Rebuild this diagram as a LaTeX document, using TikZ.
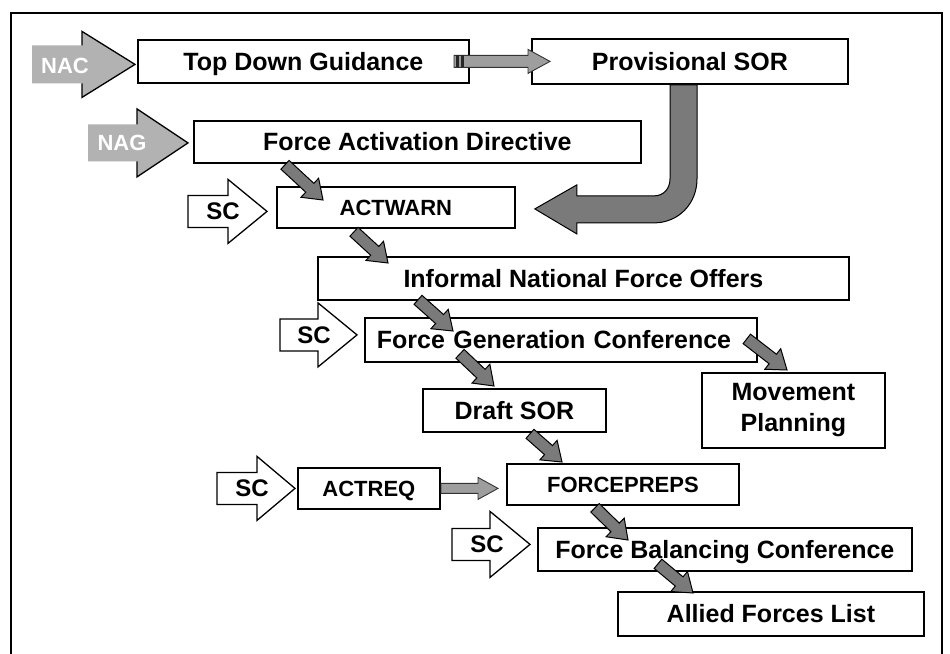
\documentclass[tikz,border=0pt]{standalone}
\usepackage{fontspec}
\setmainfont{Liberation Sans}
\usetikzlibrary{calc}

% broad grey block arrow from tail #2 to tip #3
\newcommand\fatarrow[3][]{%
  \path ($(#3)!18pt!(#2)$) coordinate (fah);
  \filldraw[fat,#1] ($(#2)!6pt!90:(#3)$) -- ($(fah)!6pt!90:(#3)$) -- ($(fah)!13pt!90:(#3)$)
    -- (#3) -- ($(fah)!13pt!-90:(#3)$) -- ($(fah)!6pt!-90:(#3)$) -- ($(#2)!6pt!-90:(#3)$) -- cycle;}

% entry arrow pointing right to tip #2: body length #3, head length #4,
% body half height #5, head half height #6
\newcommand\entryarrow[6][]{%
  \filldraw[#1] ($(#2)+({-(#3)-(#4)},{-(#5)})$) -- ($(#2)+({-(#4)},{-(#5)})$)
    -- ($(#2)+({-(#4)},{-(#6)})$) -- (#2) -- ($(#2)+({-(#4)},{#6})$)
    -- ($(#2)+({-(#4)},{#5})$) -- ($(#2)+({-(#3)-(#4)},{#5})$) -- cycle;}

% grey entry arrow whose outline is drawn on the head only
\newcommand\headarrow[5]{%
  \fill[nacfill] ($(#1)+({-(#2)-(#3)},{-(#4)})$) -- ($(#1)+({-(#3)},{-(#4)})$)
    -- ($(#1)+({-(#3)},{-(#5)})$) -- (#1) -- ($(#1)+({-(#3)},{#5})$)
    -- ($(#1)+({-(#3)},{#4})$) -- ($(#1)+({-(#2)-(#3)},{#4})$) -- cycle;
  \draw[line width=1.3pt, line join=miter] ($(#1)+({-(#3)},{-(#4)})$)
    -- ($(#1)+({-(#3)},{-(#5)})$) -- (#1) -- ($(#1)+({-(#3)},{#5})$)
    -- ($(#1)+({-(#3)},{#4})$);}

\tikzset{
  plainbox/.style={draw=black, line width=1.8pt, fill=white, anchor=north west,
    inner sep=0pt, align=center, font=\bfseries\fontsize{25}{31}\selectfont},
  box/.style={plainbox, text height=18pt, text depth=0pt},
  capsbox/.style={plainbox, text height=16pt, text depth=0pt,
    font=\bfseries\fontsize{22}{26}\selectfont},
  fat/.style={fill=black!52, draw=black, line width=1pt, line join=miter},
  thin/.style={fill=black!38, draw=black!80, line width=0.9pt, line join=miter},
  nacfill/.style={fill=black!30},
  scshape/.style={fill=white, draw=black, line width=1.3pt, line join=miter},
  sclabel/.style={font=\bfseries\fontsize{24}{28}\selectfont, inner sep=0pt},
  naclabel/.style={font=\bfseries\fontsize{22}{26}\selectfont, text=white, inner sep=0pt},
}

\begin{document}
\begin{tikzpicture}[x=1pt,y=-1pt]
\useasboundingbox (0,0) rectangle (950,653);
\fill[white] (0,0) rectangle (950,653);

% outer frame
\draw[line width=1.3pt] (11,13) rectangle (942,664);

% process boxes
\node[box, minimum width=331, minimum height=43] (tdg) at (137,39) {Top Down Guidance};
\node[box, minimum width=316, minimum height=45] (psor) at (531,38) {Provisional SOR};
\node[box, minimum width=447, minimum height=42] (fad) at (193,120) {Force Activation Directive};
\node[capsbox, minimum width=238, minimum height=41] (actwarn) at (276,186) {ACTWARN};
\node[box, minimum width=531, minimum height=43] (info) at (317,256) {Informal National Force Offers};
\node[box, minimum width=392, minimum height=44, text width=368, align=left] (fgc) at (364,317) {Force Generation Conference};
\node[plainbox, minimum width=183, minimum height=75] (mp) at (701,372) {Movement\\Planning};
\node[box, minimum width=183, minimum height=43] (draft) at (422,388) {Draft SOR};
\node[capsbox, minimum width=142, minimum height=41] (actreq) at (297,467) {ACTREQ};
\node[capsbox, minimum width=232, minimum height=41] (fp) at (506,463) {FORCEPREPS};
\node[box, minimum width=374, minimum height=43] (fbc) at (537,527) {Force Balancing Conference};
\node[box, minimum width=306, minimum height=44] (afl) at (617,591) {Allied Forces List};

% NAC inputs
\coordinate (nac1) at ($(tdg.west)+(-2,3)$);
\headarrow{nac1}{50}{53}{19}{33}
\node[naclabel] (nac1l) at ($(nac1)+(-70,2)$) {NAC};
\coordinate (nac2) at ($(fad.west)+(-5,1)$);
\headarrow{nac2}{49}{51}{18.5}{34}
\node[naclabel] (nac2l) at ($(nac2)+(-66,0)$) {NAG};

% SC inputs
\coordinate (sc1) at ($(actwarn.west)+(-9,4)$);
\entryarrow[scshape]{sc1}{40}{39}{16}{32}
\node[sclabel] (sc1l) at ($(sc1)+(-44,0)$) {SC};
\coordinate (sc2) at ($(fgc.west)+(-7,-5)$);
\entryarrow[scshape]{sc2}{38}{39}{16}{32}
\node[sclabel] (sc2l) at ($(sc2)+(-43,0)$) {SC};
\coordinate (sc3) at ($(actreq.west)+(-2,0)$);
\entryarrow[scshape]{sc3}{40}{38}{16}{32}
\node[sclabel] (sc3l) at ($(sc3)+(-43,0)$) {SC};
\coordinate (sc4) at ($(fbc.west)+(-7,-5)$);
\entryarrow[scshape]{sc4}{38}{40}{16}{33}
\node[sclabel] (sc4l) at ($(sc4)+(-43,0)$) {SC};

% horizontal flow arrows
\coordinate (h1a) at ($(tdg.east)+(-14,0)$);
\coordinate (h1b) at ($(psor.west)+(19,0)$);
\entryarrow[thin]{h1b}{74}{22}{6}{12}
\fill[black!85] ($(h1a)+(0,-6)$) rectangle ($(h1a)+(3,6)$);
\fill[black!85] ($(h1a)+(5,-6)$) rectangle ($(h1a)+(8,6)$);
\coordinate (h2b) at ($(fp.west)+(-8,4)$);
\entryarrow[thin]{h2b}{37}{20}{5}{11}

% return arrow from the provisional SOR back to ACTWARN
\coordinate (ua) at ($(psor.south west)+(139,0)$);
\coordinate (ub) at ($(actwarn.east)+(19,1.5)$);
\filldraw[fat] (ua) -- ($(ua)+(27,0)$) -- ($(ua)+(27,94)$)
  .. controls ($(ua)+(27,118.8)$) and ($(ub)+(143.8,14)$) .. ($(ub)+(119,14)$)
  -- ($(ub)+(42,14)$) -- ($(ub)+(42,25)$) -- (ub) -- ($(ub)+(42,-24)$)
  -- ($(ub)+(42,-13)$) -- ($(ub)+(119,-13)$)
  .. controls ($(ub)+(128.9,-13)$) and ($(ua)+(0,103.9)$) .. ($(ua)+(0,94)$)
  -- cycle;

% diagonal flow arrows
\coordinate (d1a) at ($(fad.south west)+(92,1)$);
\coordinate (d1b) at ($(actwarn.north west)+(47,14)$);
\fatarrow{d1a}{d1b}
\coordinate (d2a) at ($(actwarn.south west)+(78,3)$);
\coordinate (d2b) at ($(info.north west)+(71,7)$);
\fatarrow{d2a}{d2b}
\coordinate (d3a) at ($(info.south west)+(101,-1)$);
\coordinate (d3b) at ($(fgc.north west)+(89,14)$);
\fatarrow{d3a}{d3b}
\coordinate (d4a) at ($(fgc.south west)+(96,-9)$);
\coordinate (d4b) at ($(draft.north west)+(72,-2)$);
\fatarrow{d4a}{d4b}
\coordinate (d5a) at ($(fgc.east)+(-11,-1)$);
\coordinate (d5b) at ($(mp.north west)+(86,-2)$);
\fatarrow{d5a}{d5b}
\coordinate (d6a) at ($(draft.south west)+(108,1)$);
\coordinate (d6b) at ($(fp.north west)+(56,-1)$);
\fatarrow{d6a}{d6b}
\coordinate (d7a) at ($(fp.south west)+(89,2)$);
\coordinate (d7b) at ($(fbc.north west)+(91,13)$);
\fatarrow{d7a}{d7b}
\coordinate (d8a) at ($(fbc.south west)+(121,-8)$);
\coordinate (d8b) at ($(afl.north west)+(76,2)$);
\fatarrow{d8a}{d8b}
\end{tikzpicture}
\end{document}
